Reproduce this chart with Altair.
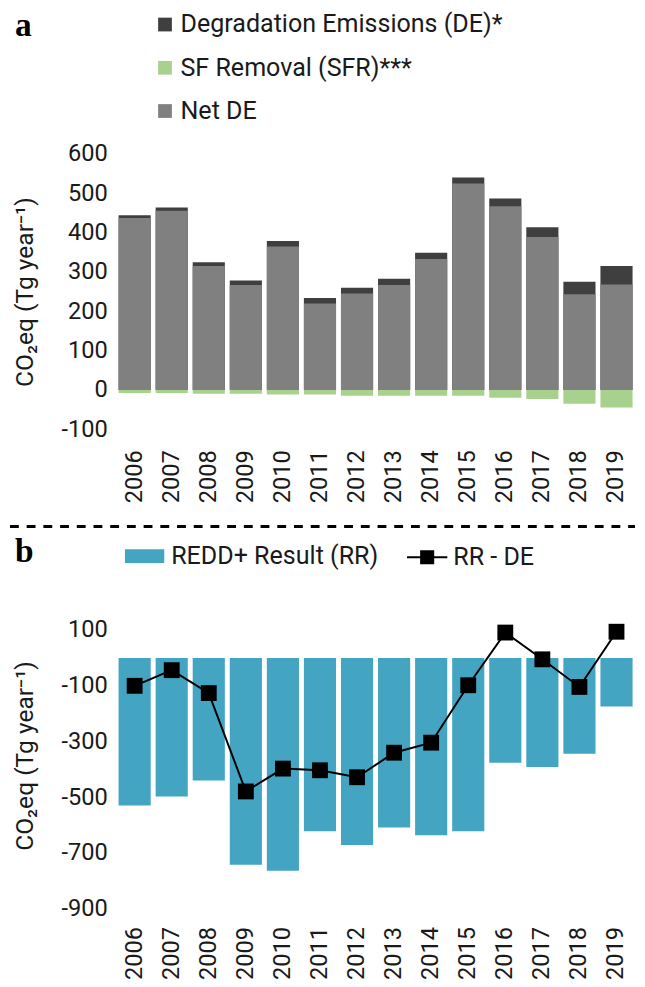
import altair as alt
import pandas as pd

years = [str(y) for y in range(2006, 2020)]

# Panel a (Tg CO2eq / year)
de = [444, 464, 325, 278, 379, 234, 260, 283, 349, 540, 487, 414, 275, 315]
sfr = [-8, -8, -10, -10, -12, -12, -15, -15, -15, -15, -20, -23, -35, -45]
net_de = [437, 456, 315, 267, 365, 220, 245, 267, 333, 525, 467, 389, 243, 268]

# Panel b
rr = [-529, -497, -440, -742, -763, -622, -671, -608, -636, -622, -376, -391, -344, -174]
rr_de = [-100, -44, -126, -479, -397, -403, -428, -340, -304, -98, 91, -5, -104, 94]

series_a = ["Degradation Emissions (DE)*", "SF Removal (SFR)***", "Net DE"]
colors_a = ["#3f3f3f", "#a9d18e", "#808080"]
ticks_a = [-100, 0, 100, 200, 300, 400, 500, 600]
ticks_b = [100, -100, -300, -500, -700, -900]

W = 528
HA = 280
HB = 312
FONT = "Roboto"
TXT = "#1a1a1a"
LEGFS = 25.5
YTITLE = "CO₂eq (Tg year⁻¹)"
HYPHEN = "replace(datum.label, '\u2212', '-')"

df_a = pd.DataFrame({"year": years, series_a[0]: de, series_a[1]: sfr, series_a[2]: net_de})
df_b = pd.DataFrame({"year": years, "rr": rr, "rr_de": rr_de})

xscale = alt.Scale(paddingInner=0.133, paddingOuter=0.0665)


def xaxis(pad):
    return alt.Axis(title=None, labelAngle=-90, labelFont=FONT, labelFontSize=24,
                    labelColor=TXT, domain=False, ticks=False, labelPadding=pad)


def yaxis(vals):
    return alt.Axis(title=YTITLE, values=vals, labelFont=FONT, labelFontSize=24,
                    labelColor=TXT, labelExpr=HYPHEN, titleFont=FONT, titleFontSize=25,
                    titleFontWeight="normal", titleColor=TXT, grid=False,
                    domain=False, ticks=False, labelPadding=9, titlePadding=24)


bars_a = alt.Chart(df_a).transform_fold(series_a, as_=["key", "value"]).mark_bar().encode(
    x=alt.X("year:O", scale=xscale, axis=xaxis(21)),
    y=alt.Y("value:Q", stack=None,
            scale=alt.Scale(domain=[-100, 600], nice=False, zero=False),
            axis=yaxis(ticks_a)),
    color=alt.Color("key:N", scale=alt.Scale(domain=series_a, range=colors_a),
                    legend=alt.Legend(title=None, orient="none", legendX=37, legendY=-144.5,
                                      direction="vertical", symbolType="square",
                                      symbolSize=196, symbolStrokeWidth=0,
                                      symbolOpacity=1,
                                      labelFont=FONT, labelFontSize=LEGFS, labelColor=TXT,
                                      labelLimit=500, rowPadding=17, labelOffset=3,
                                      padding=0)),
)

lbl_a = alt.Chart(pd.DataFrame({"t": ["a"]})).mark_text(
    font="Liberation Serif", fontSize=34, fontWeight="bold", align="left",
    baseline="alphabetic", color="black").encode(
    text="t:N", x=alt.value(-103), y=alt.value(-120.5))

sep = alt.Chart(pd.DataFrame({"t": ["sep"]})).mark_rule(
    color="black", strokeWidth=3, strokeDash=[9, 8]).encode(
    x=alt.value(-108), x2=alt.value(W), y=alt.value(HA + 99))

panel_a = alt.layer(bars_a, lbl_a, sep).properties(width=W, height=HA)

bars_b = alt.Chart(df_b).transform_calculate(lbl="'REDD+ Result (RR)'").mark_bar().encode(
    x=alt.X("year:O", scale=xscale, axis=xaxis(18)),
    y=alt.Y("rr:Q", scale=alt.Scale(domain=[-900, 200], nice=False, zero=False),
            axis=yaxis(ticks_b)),
    color=alt.Color("lbl:N", scale=alt.Scale(range=["#44a5c2"]),
                    legend=alt.Legend(title=None, orient="none", legendX=9, legendY=-66.8,
                                      symbolType="M-1,-0.35H1V0.35H-1Z", symbolSize=1600,
                                      symbolStrokeWidth=0, symbolOpacity=1,
                                      labelFont=FONT, labelFontSize=LEGFS, labelColor=TXT,
                                      labelLimit=500, labelOffset=7, padding=0)),
)

line_b = alt.Chart(df_b).transform_calculate(lbl2="'RR - DE'").mark_line(
    strokeWidth=2,
    point=alt.OverlayMarkDef(shape="square", size=260, filled=True, opacity=1)).encode(
    x=alt.X("year:O", scale=xscale, axis=xaxis(18)),
    y=alt.Y("rr_de:Q"),
    color=alt.Color("lbl2:N", scale=alt.Scale(range=["black"]),
                    legend=alt.Legend(title=None, orient="none", legendX=295, legendY=-67.3,
                                      symbolType="M-1,0H1M-0.3,-0.3H0.3V0.3H-0.3Z",
                                      symbolSize=1681, symbolStrokeWidth=2,
                                      symbolFillColor="black", symbolStrokeColor="black",
                                      symbolOpacity=1,
                                      labelFont=FONT, labelFontSize=LEGFS, labelColor=TXT,
                                      labelLimit=500, labelOffset=5, padding=0)),
)

lbl_b = alt.Chart(pd.DataFrame({"t": ["b"]})).mark_text(
    font="Liberation Serif", fontSize=34, fontWeight="bold", align="left",
    baseline="alphabetic", color="black").encode(
    text="t:N", x=alt.value(-103), y=alt.value(-40.8))

panel_b = alt.layer(bars_b, line_b, lbl_b).resolve_scale(color="independent").properties(
    width=W, height=HB)

chart = alt.vconcat(panel_a, panel_b, spacing=7).properties(
    padding={"top": -8, "left": 0, "right": 0, "bottom": 0}, background="white"
).configure_view(stroke=None)

chart.save("out.html", embed_options={"renderer": "svg", "actions": False})
